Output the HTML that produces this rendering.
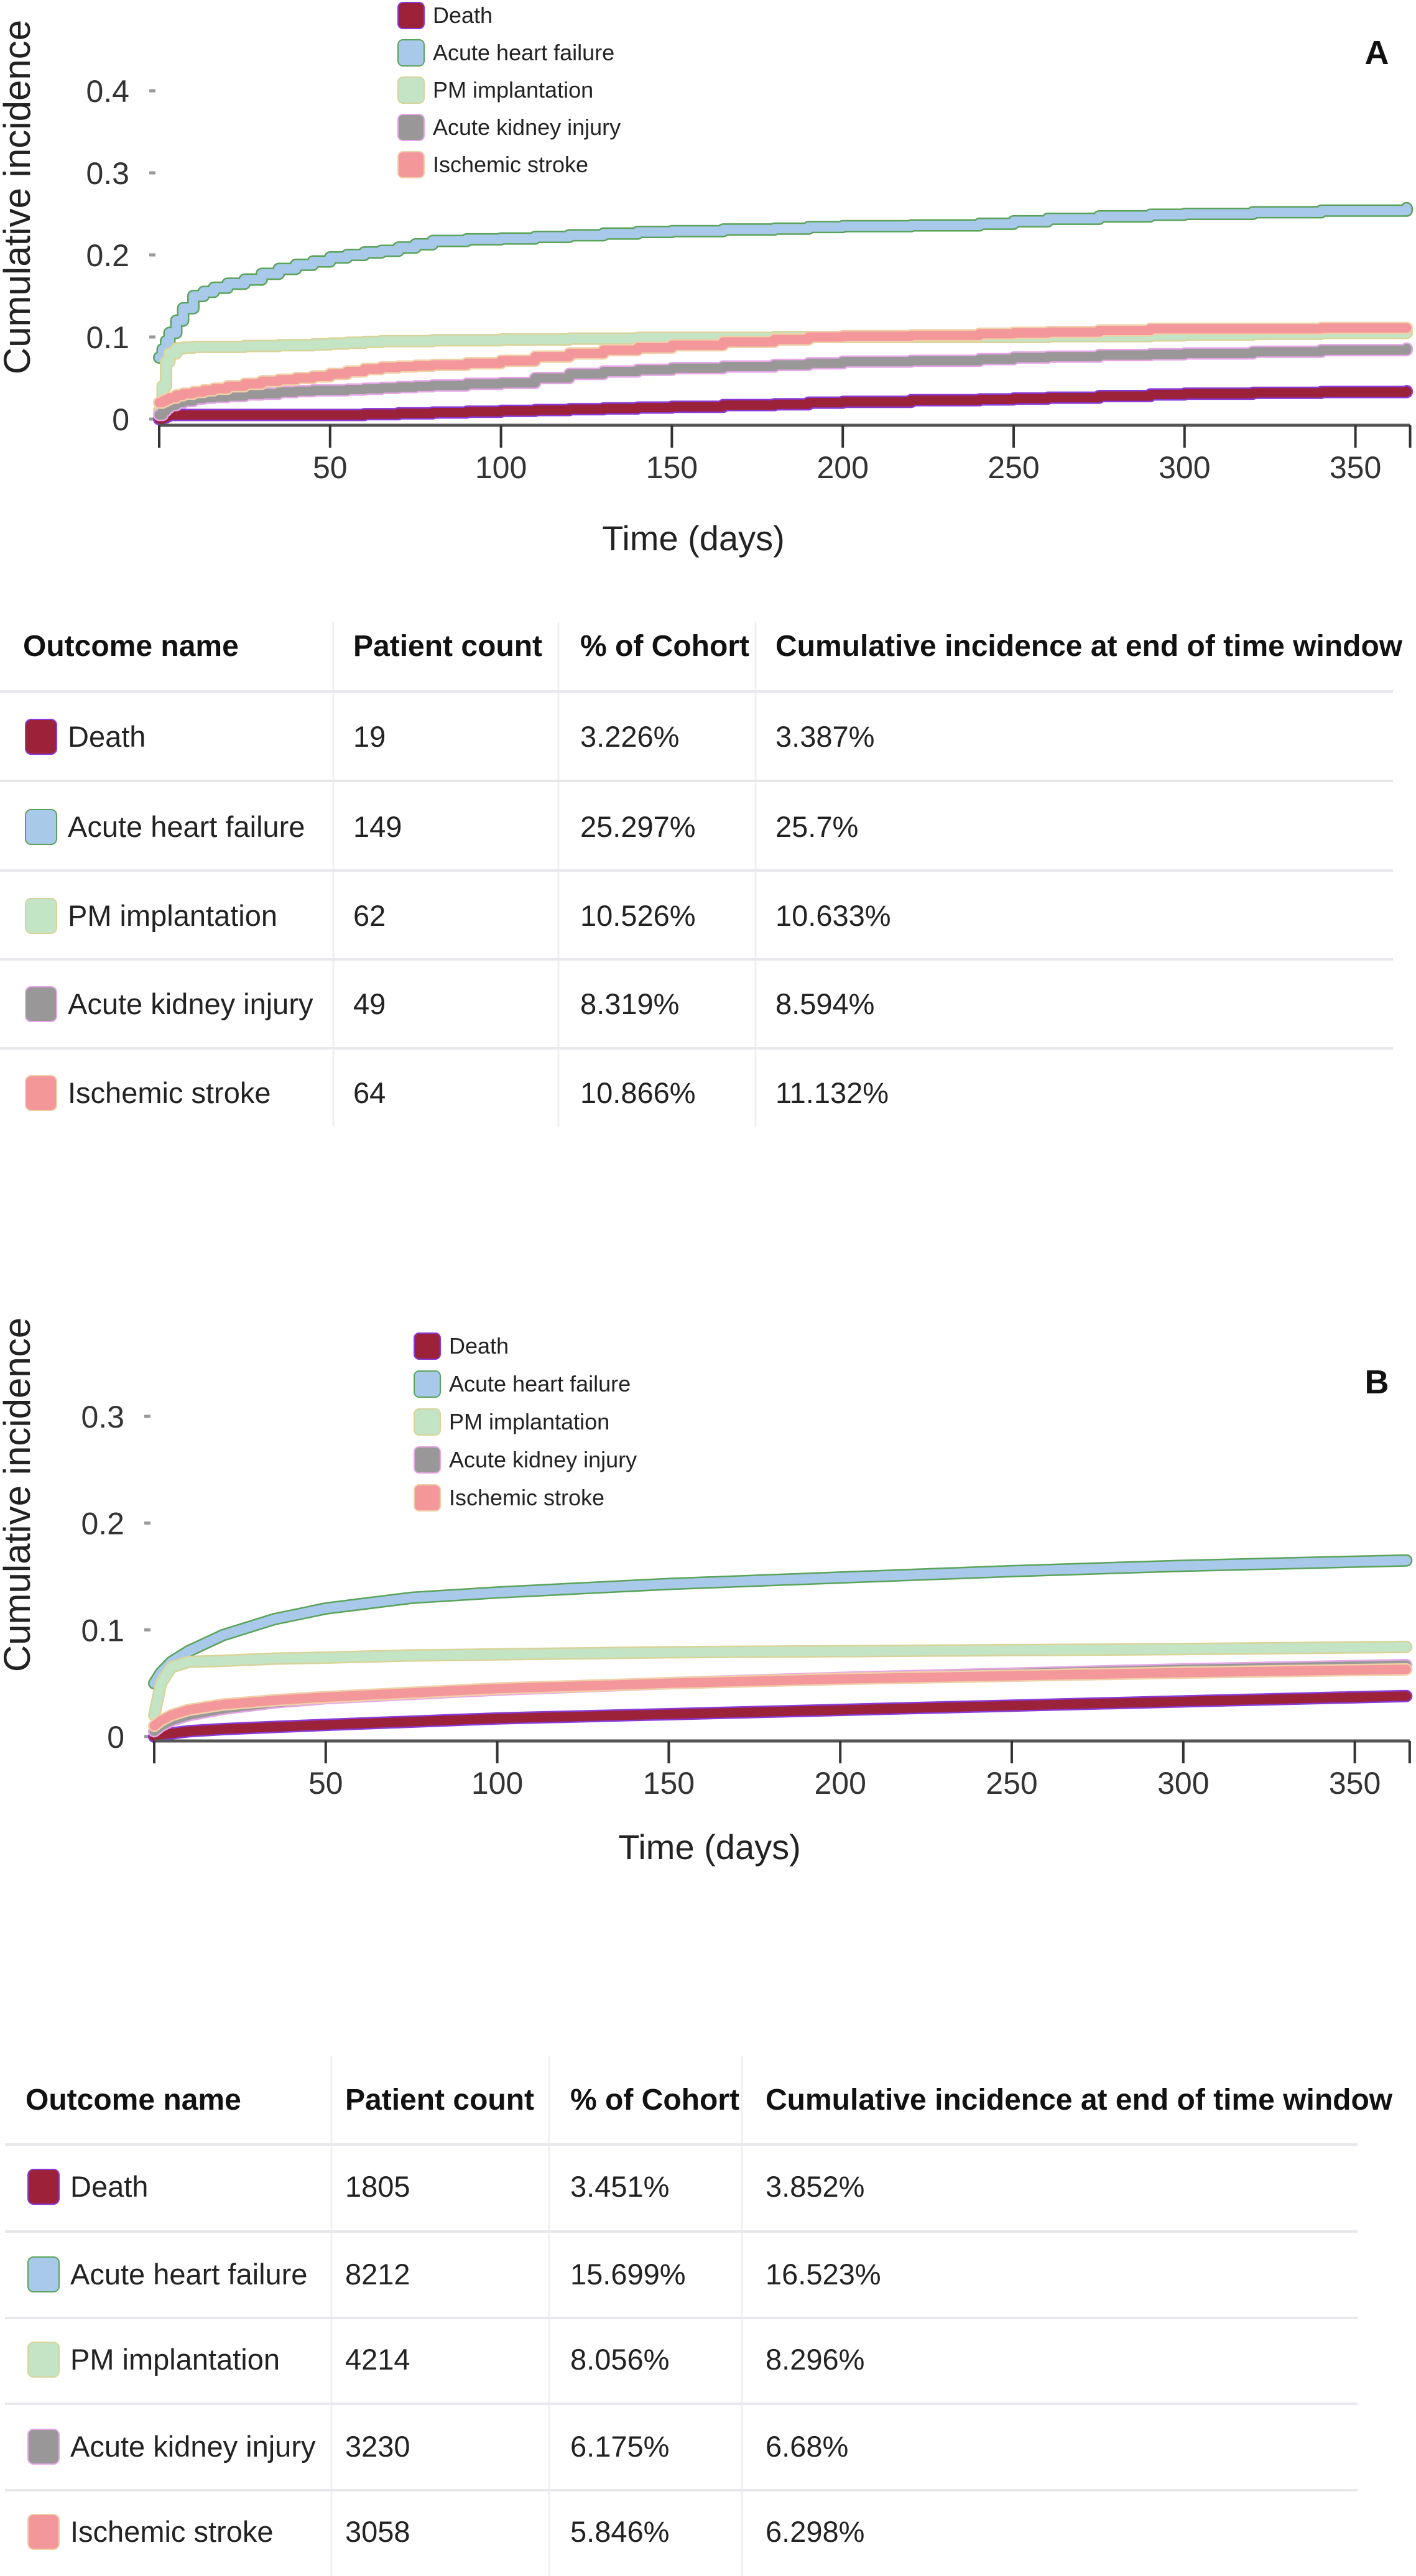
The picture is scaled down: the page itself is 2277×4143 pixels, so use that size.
<!DOCTYPE html>
<html><head><meta charset="utf-8">
<style>
html,body{margin:0;padding:0;background:#fff;}
svg{display:block;font-family:"Liberation Sans",sans-serif;}
</style></head>
<body>
<svg id="page" width="2277" height="4143" viewBox="0 0 2277 4143" xmlns="http://www.w3.org/2000/svg">
<g id="chartA"></g>
<g id="tableA"></g>
<g id="chartB"></g>
<g id="tableB"></g>
</svg>
<script>
const seriesNames = ["Death","Acute heart failure","PM implantation","Acute kidney injury","Ischemic stroke"];
const fillColors = ["#9b2238","#a9c9ea","#c3e4c5","#9a9798","#f4979b"];
const edgeColors = ["#8a3bd6","#5aa35a","#d8d49a","#e6a6e6","#f0d0a8"];
const xTicks = [50,100,150,200,250,300,350];
const yTicksA = [0,0.1,0.2,0.3,0.4];
const yTickLabelsA = ["0","0.1","0.2","0.3","0.4"];
const yTicksB = [0,0.1,0.2,0.3];
const yTickLabelsB = ["0","0.1","0.2","0.3"];
// chart A
const daysA = [0,1,2,3,5,7,10,13,16,20,25,30,35,40,45,50,55,60,65,70,75,80,90,100,110,120,130,140,150,165,180,190,200,220,240,250,260,275,290,300,320,340,365];
const deathA = [0,0.002,0.004,0.005,0.005,0.005,0.005,0.005,0.005,0.005,0.005,0.005,0.005,0.005,0.005,0.005,0.005,0.006,0.006,0.007,0.007,0.008,0.009,0.01,0.011,0.012,0.013,0.014,0.015,0.017,0.018,0.02,0.021,0.023,0.024,0.025,0.026,0.028,0.030,0.031,0.032,0.033,0.034];
const ahfA = [0.075,0.085,0.095,0.105,0.12,0.135,0.15,0.155,0.16,0.165,0.17,0.177,0.183,0.188,0.192,0.197,0.2,0.203,0.205,0.209,0.213,0.217,0.219,0.22,0.222,0.224,0.226,0.228,0.229,0.231,0.232,0.234,0.235,0.236,0.238,0.241,0.244,0.247,0.249,0.25,0.252,0.254,0.257];
const pmA = [0.01,0.04,0.07,0.08,0.086,0.087,0.088,0.088,0.088,0.088,0.089,0.089,0.09,0.09,0.091,0.092,0.093,0.094,0.095,0.095,0.095,0.096,0.096,0.097,0.097,0.098,0.098,0.099,0.099,0.099,0.1,0.1,0.1,0.1,0.1,0.1,0.101,0.101,0.102,0.103,0.104,0.105,0.106];
const akiA = [0.005,0.01,0.014,0.017,0.02,0.022,0.025,0.026,0.027,0.028,0.03,0.031,0.033,0.034,0.035,0.035,0.036,0.037,0.038,0.039,0.04,0.041,0.043,0.044,0.05,0.055,0.058,0.06,0.062,0.064,0.066,0.068,0.07,0.071,0.073,0.075,0.076,0.078,0.079,0.08,0.082,0.084,0.086];
const strokeA = [0.02,0.022,0.024,0.026,0.029,0.031,0.033,0.035,0.037,0.04,0.043,0.046,0.048,0.05,0.052,0.055,0.058,0.061,0.063,0.064,0.065,0.066,0.068,0.071,0.076,0.08,0.084,0.087,0.09,0.094,0.097,0.1,0.101,0.102,0.104,0.105,0.106,0.108,0.11,0.11,0.11,0.111,0.111];
// chart B
const daysB = [0,2,5,10,20,35,50,75,100,150,200,250,300,365];
const deathB = [0,0.002,0.003,0.005,0.007,0.009,0.011,0.014,0.017,0.021,0.025,0.029,0.033,0.038];
const ahfB = [0.05,0.06,0.07,0.08,0.095,0.11,0.12,0.13,0.135,0.143,0.149,0.155,0.16,0.165];
const pmB = [0.02,0.05,0.065,0.07,0.071,0.073,0.074,0.076,0.077,0.079,0.08,0.081,0.082,0.084];
const akiB = [0.005,0.01,0.015,0.02,0.026,0.032,0.036,0.04,0.044,0.05,0.055,0.059,0.063,0.067];
const strokeB = [0.01,0.015,0.02,0.025,0.03,0.034,0.037,0.041,0.045,0.05,0.054,0.057,0.06,0.063];
// tables
const countsA = ["19","149","62","49","64"];
const pctA = ["3.226%","25.297%","10.526%","8.319%","10.866%"];
const ciA = ["3.387%","25.7%","10.633%","8.594%","11.132%"];
const countsB = ["1805","8212","4214","3230","3058"];
const pctB = ["3.451%","15.699%","8.056%","6.175%","5.846%"];
const ciB = ["3.852%","16.523%","8.296%","6.68%","6.298%"];
const headers = ["Outcome name","Patient count","% of Cohort","Cumulative incidence at end of time window"];

const NS="http://www.w3.org/2000/svg";
function mk(parent,tag,attrs,text){const e=document.createElementNS(NS,tag);for(const k in attrs)e.setAttribute(k,attrs[k]);if(text!==undefined)e.textContent=text;parent.appendChild(e);return e;}

function drawChart(g,cfg){
  const xs=d=>cfg.x0+d*cfg.dx;
  const ys=v=>cfg.y0-v*cfg.dy;
  const yt=mk(g,'text',{x:0,y:0,transform:`translate(${cfg.ytx},${cfg.yty}) rotate(-90)`,'text-anchor':'middle','font-size':60,fill:'#222'},'Cumulative incidence');
  
  
  cfg.yTicks.forEach((v,i)=>{
    const t=mk(g,'text',{x:cfg.x0-48,y:ys(v)+18,'text-anchor':'end','font-size':50,fill:'#333'},cfg.yLabels[i]);
    
    
    const tk=mk(g,'line',{x1:cfg.x0-16,x2:cfg.x0-6,y1:ys(v),y2:ys(v),stroke:'#999','stroke-width':5});
    
    
  });
  cfg.series.forEach((vals,si)=>{
    let d='';
    cfg.days.forEach((day,i)=>{
      if(i===0)d+=`M${xs(day)},${ys(vals[i])}`;
      else if(cfg.step)d+=` H${xs(day)} V${ys(vals[i])}`;
      else d+=` L${xs(day)},${ys(vals[i])}`;
    });
    d+=` H${xs(365)}`;
    const o=mk(g,'path',{d:d,fill:'none',stroke:edgeColors[si],'stroke-width':20,'stroke-linejoin':'round','stroke-linecap':'round'});
    
    
    const p=mk(g,'path',{d:d,fill:'none',stroke:fillColors[si],'stroke-width':15,'stroke-linejoin':'round','stroke-linecap':'round'});
    
    
  });
  const ax=mk(g,'line',{x1:xs(0),x2:xs(366),y1:cfg.axisY,y2:cfg.axisY,stroke:'#555','stroke-width':5});
  
  
  [0].concat(xTicks).concat([366]).forEach(v=>{
    const tk=mk(g,'line',{x1:xs(v),x2:xs(v),y1:cfg.axisY,y2:cfg.axisY+36,stroke:'#333','stroke-width':4});
    
    
  });
  xTicks.forEach(v=>{
    const t=mk(g,'text',{x:xs(v),y:cfg.axisY+85,'text-anchor':'middle','font-size':50,fill:'#333'},String(v));
    
    
  });
  const xt=mk(g,'text',{x:cfg.xtx,y:cfg.xty,'text-anchor':'middle','font-size':56,fill:'#222'},'Time (days)');
  
  
  seriesNames.forEach((n,i)=>{
    const y=cfg.legY+i*cfg.legStep;
    const r=mk(g,'rect',{x:cfg.legX,y:y-20,width:42,height:42,rx:8,fill:fillColors[i],stroke:edgeColors[i],'stroke-width':2});
    
    
    const t=mk(g,'text',{x:cfg.legX+56,y:y+13,'font-size':36,fill:'#222'},n);
    
    
  });
  const pl=mk(g,'text',{x:2214,y:cfg.panelY,'text-anchor':'middle','font-size':54,'font-weight':'bold',fill:'#111'},cfg.panel);
  
  
}

function drawTable(g,cfg){
  cfg.divX.forEach(x=>{
    const l=mk(g,'line',{x1:x,x2:x,y1:cfg.top,y2:cfg.bottom,stroke:'#f0f0f0','stroke-width':3});
    
    
  });
  cfg.sepY.forEach(y=>{
    const l=mk(g,'line',{x1:cfg.left,x2:cfg.right,y1:y,y2:y,stroke:'#e8e8ec','stroke-width':4});
    
    
  });
  headers.forEach((h,i)=>{
    const t=mk(g,'text',{x:cfg.colX[i],y:cfg.headY+17,'font-size':48,'font-weight':'bold',fill:'#111'},h);
    
    
  });
  seriesNames.forEach((n,i)=>{
    const y=cfg.rowY[i];
    const r=mk(g,'rect',{x:cfg.colX[0]+4,y:y-27,width:50,height:56,rx:9,fill:fillColors[i],stroke:edgeColors[i],'stroke-width':2});
    
    
    const cells=[n,cfg.counts[i],cfg.pct[i],cfg.ci[i]];
    cells.forEach((c,j)=>{
      const t=mk(g,'text',{x:j===0?cfg.colX[0]+72:cfg.colX[j],y:y+17,'font-size':47,fill:'#222'},c);
      
      
    });
  });
}

drawChart(document.getElementById('chartA'),{x0:256,dx:5.496,y0:674,dy:1320,axisY:684,yTicks:yTicksA,yLabels:yTickLabelsA,
  series:[deathA,ahfA,pmA,akiA,strokeA],days:daysA,step:true,ytx:48,yty:317,xtx:1115,xty:885,legX:640,legY:24,legStep:60,panel:'A',panelY:103});
drawTable(document.getElementById('tableA'),{left:0,right:2240,top:1000,bottom:1812,divX:[536,898,1215],sepY:[1112,1256,1400,1543,1686],
  colX:[37,568,933,1247],headY:1038,rowY:[1184,1329,1472,1614,1757],counts:countsA,pct:pctA,ci:ciA});
drawChart(document.getElementById('chartB'),{x0:248,dx:5.516,y0:2793,dy:1717,axisY:2800,yTicks:yTicksB,yLabels:yTickLabelsB,
  series:[deathB,ahfB,pmB,akiB,strokeB],days:daysB,step:false,ytx:48,yty:2404,xtx:1141,xty:2990,legX:666,legY:2164,legStep:61,panel:'B',panelY:2241});
drawTable(document.getElementById('tableB'),{left:8,right:2183,top:3307,bottom:4143,divX:[533,883,1193],sepY:[3449,3589,3728,3866,4005],
  colX:[41,555,917,1231],headY:3376,rowY:[3516,3657,3794,3934,4071],counts:countsB,pct:pctB,ci:ciB});
</script>
</body></html>
